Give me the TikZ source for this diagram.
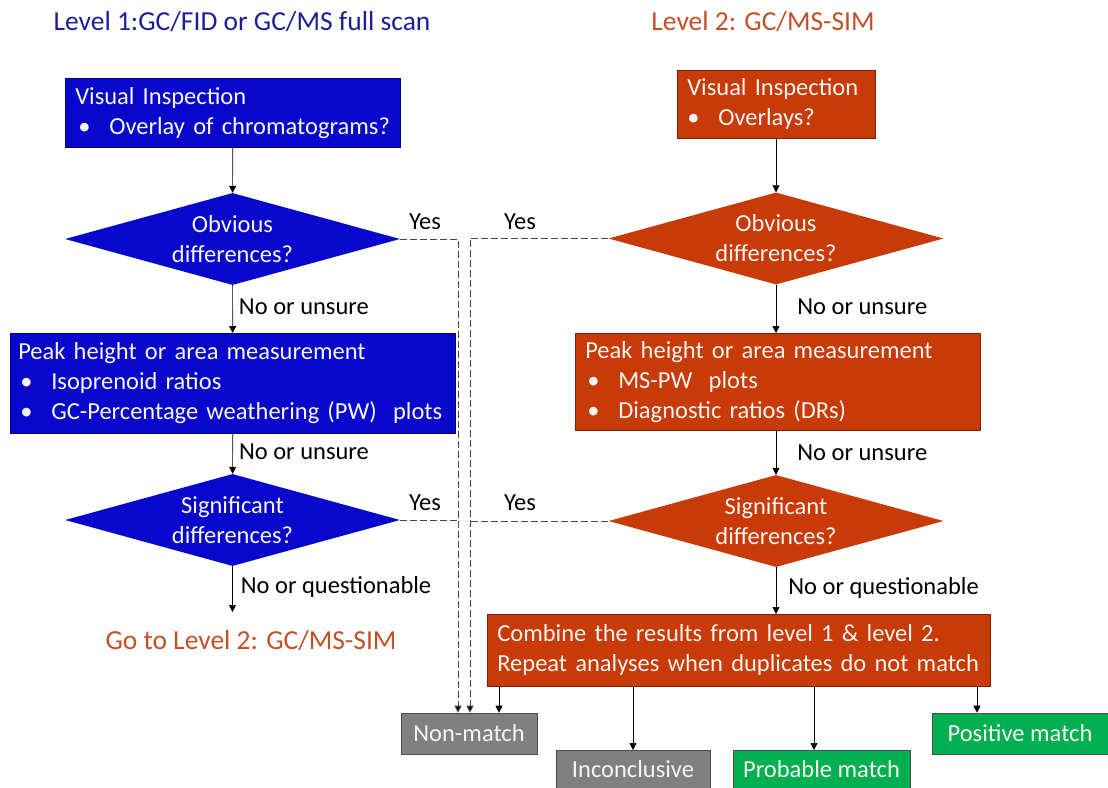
\documentclass[tikz,border=0pt]{standalone}
\usepackage{fontspec}
\setmainfont{Carlito}
\usetikzlibrary{shapes.geometric,arrows.meta,calc}
\definecolor{boxblue}{RGB}{8,8,204}
\definecolor{boxorange}{RGB}{200,58,8}
\definecolor{titleblue}{RGB}{30,30,150}
\definecolor{titleorange}{RGB}{196,80,40}
\definecolor{boxgray}{RGB}{128,128,128}
\definecolor{boxgreen}{RGB}{0,176,80}
\definecolor{txtwhite}{RGB}{248,244,240}
\definecolor{dashgray}{RGB}{70,70,70}
\newcommand{\bul}[1]{\makebox[31pt][l]{\textbullet}#1}
\newcommand{\dtext}[2]{\makebox[0pt][c]{\raisebox{-8.5pt}[0pt][0pt]{\begin{tabular}[c]{@{}c@{}}#1\\#2\end{tabular}}}}
\tikzset{
  base/.style={font=\fontsize{24.5}{30}\selectfont, text=txtwhite},
  bluebox/.style={base, rectangle, fill=boxblue, draw=boxblue!60!black, line width=0.6pt, anchor=north west, align=left, inner xsep=10pt, inner ysep=0pt},
  orangebox/.style={base, rectangle, fill=boxorange, draw=boxorange!60!black, line width=0.6pt, anchor=north west, align=left, inner xsep=10pt, inner ysep=0pt},
  bdiam/.style={base, diamond, fill=boxblue, draw=none, aspect=3.64, minimum width=335pt, minimum height=92pt, inner sep=0pt},
  odiam/.style={base, diamond, fill=boxorange, draw=none, aspect=3.64, minimum width=335pt, minimum height=92pt, inner sep=0pt},
  outbox/.style={base, rectangle, draw=black!70, line width=0.6pt, inner sep=0pt, align=center},
  arr/.style={-{Triangle[length=7pt,width=7pt]}, line width=0.7pt, black},
  dasharr/.style={-{Triangle[length=7pt,width=7pt,fill=black]}, line width=1pt, dashgray, dash pattern=on 7pt off 3pt},
  dashln/.style={line width=1pt, dashgray, dash pattern=on 7pt off 3pt},
  lbl/.style={font=\fontsize{24.5}{30}\selectfont, text=black, inner sep=0pt},
  title/.style={font=\fontsize{27.5}{33}\selectfont, inner sep=0pt},
}
\begin{document}
\begin{tikzpicture}[x=1pt,y={(0pt,-1pt)}]
\useasboundingbox (0,0) rectangle (1108,787);
% titles
\node[title, text=titleblue] (t1) at (242,22) {Level 1:GC/FID or GC/MS full scan};
\node[title, text=titleorange] (t2) at (763,22) {Level 2: GC/MS-SIM};
% left column
\node[bluebox, text width=315pt, minimum height=69pt] (b1) at (65,78) {Visual Inspection\\\hspace*{3pt}\bul{Overlay of chromatograms?}};
\node[bdiam] (d1) at (232.5,239) {\dtext{Obvious}{differences?}};
\node[bluebox, text width=429pt, minimum height=100pt, inner xsep=8pt] (b3) at (10,333) {Peak height or area measurement\\\hspace*{2pt}\bul{Isoprenoid ratios}\\\hspace*{2pt}\bul{GC-Percentage weathering (PW)\ \ plots}};
\node[bdiam] (d3) at (232.5,520) {\dtext{Significant}{differences?}};
\coordinate (go) at (232.5,612);
\node[title, text=titleorange] (g2) at (251,641) {Go to Level 2: GC/MS-SIM};
% right column
\node[orangebox, text width=178pt, minimum height=68pt] (b2) at (677,70) {Visual Inspection\\\bul{Overlays?}};
\node[odiam] (d2) at (776,238.5) {\dtext{Obvious}{differences?}};
\node[orangebox, text width=385pt, minimum height=97pt] (b4) at (575,333) {Peak height or area measurement\\\hspace*{2pt}\bul{MS-PW\ \ plots}\\\hspace*{2pt}\bul{Diagnostic ratios (DRs)}};
\node[odiam] (d4) at (776,521) {\dtext{Significant}{differences?}};
\node[orangebox, text width=483pt, minimum height=72pt] (b5) at (487,614) {Combine the results from level 1 \& level 2.\\Repeat analyses when duplicates do not match};
% outcomes
\node[outbox, fill=boxgray, minimum width=136pt, minimum height=41pt] (nm) at (469,733.5) {Non-match};
\node[outbox, fill=boxgray, minimum width=154pt, minimum height=38pt, anchor=north] (inc) at (633,750) {Inconclusive};
\node[outbox, fill=boxgreen, minimum width=177pt, minimum height=38pt, anchor=north] (pm) at (821.5,750) {Probable match};
\node[outbox, fill=boxgreen, minimum width=176pt, minimum height=41pt] (pos) at (1020,733.5) {Positive match};
% solid arrows
\draw[arr] (b1) -- (d1);
\draw[arr] (d1) -- (b3) node[lbl, pos=0.45, anchor=west, xshift=6pt] {No or unsure};
\draw[arr] (b3) -- (d3) node[lbl, pos=0.45, anchor=west, xshift=6pt] {No or unsure};
\draw[arr] (d3.south) -- (go) node[lbl, pos=0.45, anchor=west, xshift=8pt] {No or questionable};
\draw[arr] (b2.south -| d2.north) -- (d2.north);
\draw[arr] (d2.south) -- (d2.south |- b4.north) node[lbl, pos=0.45, anchor=west, xshift=21pt] {No or unsure};
\draw[arr] (d2.south |- b4.south) -- (d4.north) node[lbl, pos=0.5, anchor=west, xshift=21pt] {No or unsure};
\draw[arr] (d4.south) -- (d4.south |- b5.north) node[lbl, pos=0.45, anchor=west, xshift=12pt] {No or questionable};
\coordinate (o1) at ($(b5.south west)+(12,0)$);
\coordinate (o2) at ($(b5.south west)+(146,0)$);
\coordinate (o3) at ($(b5.south west)+(327,0)$);
\coordinate (o4) at ($(b5.south west)+(490,0)$);
\draw[arr] (o1) -- (o1 |- nm.north);
\draw[arr] (o2) -- (o2 |- inc.north);
\draw[arr] (o3) -- (o3 |- pm.north);
\draw[arr] (o4) -- (o4 |- pos.north);
% dashed
\coordinate (vl) at ($(nm.north)+(-11,0)$);
\coordinate (vr) at ($(nm.north)+(1,0)$);
\draw[dasharr] (d1.east) -| (vl);
\draw[dasharr] (d2.west) -| (vr);
\draw[dashln] (d3.east) -- (vl |- d3.east);
\draw[dashln] (d4.west) -- (vr |- d4.west);
\node[lbl] (y1) at (425,222) {Yes};
\node[lbl] (y2) at (520,222) {Yes};
\node[lbl] (y3) at (425,503) {Yes};
\node[lbl] (y4) at (520,503) {Yes};
\end{tikzpicture}
\end{document}
